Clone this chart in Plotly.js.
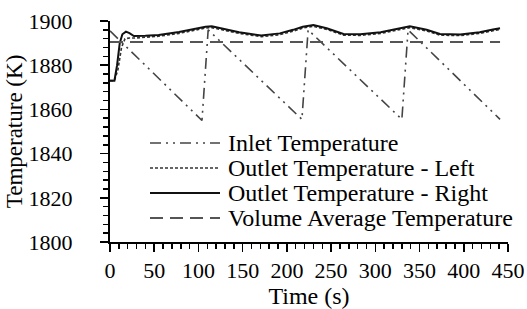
<!DOCTYPE html>
<html>
<head>
<meta charset="utf-8">
<script src="https://cdn.plot.ly/plotly-3.0.1.min.js"></script>
<style>
html,body{margin:0;padding:0;background:#fff;}
#chart{width:527px;height:309px;}
</style>
</head>
<body>
<div id="chart"></div>
<script>
// ---- data ----
const seriesNames = ["Inlet Temperature", "Outlet Temperature - Left", "Outlet Temperature - Right", "Volume Average Temperature"];

const inletTime = [0, 104, 111, 217, 224, 330, 337, 441];
const inletTemp = [1895.5, 1855, 1896, 1855.5, 1896, 1855.5, 1896, 1855.5];

const outletLeftTime = [0, 5, 9, 13, 17, 22, 28, 40, 55, 78, 93, 108, 115, 131, 146, 171, 192, 207, 218, 230, 245, 264, 283, 306, 328, 339, 358, 373, 396, 418, 433, 441];
const outletLeftTemp = [1873, 1873, 1878, 1888, 1892, 1892.3, 1892.3, 1892.6, 1893.1, 1894.4, 1895.6, 1896.8, 1897, 1895.7, 1894.4, 1892.9, 1893.8, 1895.4, 1896.8, 1897.6, 1896.2, 1893.6, 1893.5, 1894.4, 1896.3, 1897, 1895.5, 1893.6, 1893.4, 1894.4, 1895.6, 1896.2];

const outletRightTime = [0, 5, 8, 11, 14, 18, 22, 27, 40, 55, 78, 93, 108, 115, 131, 146, 171, 192, 207, 218, 230, 245, 264, 283, 306, 328, 339, 358, 373, 396, 418, 433, 441];
const outletRightTemp = [1873, 1873, 1880, 1890, 1894, 1895.2, 1894.5, 1893.2, 1893.3, 1893.7, 1895, 1896.2, 1897.4, 1897.6, 1896.2, 1894.9, 1893.4, 1894.4, 1896, 1897.4, 1898.2, 1896.7, 1894.1, 1894, 1894.9, 1896.9, 1897.6, 1896, 1894.1, 1893.9, 1894.9, 1896.2, 1896.7];

const volumeAvgTime = [0, 441];
const volumeAvgTemp = [1890.5, 1890.5];

const xTickVals = [0, 50, 100, 150, 200, 250, 300, 350, 400, 450];
const yTickVals = [1800, 1820, 1840, 1860, 1880, 1900];

// ---- styles ----
const FONT = "Liberation Serif, serif";
const styles = [
  {color: "#444", width: 1.6, dash: "11px,5px,2px,5px,2px,5px"},
  {color: "#333", width: 1.6, dash: "3px,2px"},
  {color: "#111", width: 2, dash: "solid"},
  {color: "#555", width: 2, dash: "13px,7px"}
];
const xs = [inletTime, outletLeftTime, outletRightTime, volumeAvgTime];
const ys = [inletTemp, outletLeftTemp, outletRightTemp, volumeAvgTemp];

const traces = seriesNames.map((n, i) => ({
  type: "scatter", mode: "lines", name: n,
  x: xs[i], y: ys[i], line: styles[i], showlegend: false
}));

const L = 110, R = 508, T = 21, B = 242;
const px = v => (v - L) / (R - L);
const py = v => (B - v) / (B - T);
const rows = [143, 168, 193, 218];
const shapes = [], annotations = [];
seriesNames.forEach((n, i) => {
  shapes.push({type: "line", xref: "paper", yref: "paper",
    x0: px(150), x1: px(220), y0: py(rows[i]), y1: py(rows[i]),
    line: {color: styles[i].color, width: styles[i].width, dash: styles[i].dash}});
  annotations.push({xref: "paper", yref: "paper", x: px(226), y: py(rows[i]),
    xanchor: "left", yanchor: "middle", showarrow: false, text: n,
    font: {family: FONT, size: 24, color: "#000"}});
});

const layout = {
  width: 527, height: 309,
  margin: {l: L, r: 527 - R, t: T, b: 309 - B},
  paper_bgcolor: "#fff", plot_bgcolor: "#fff",
  font: {family: FONT, size: 22, color: "#000"},
  showlegend: false,
  xaxis: {
    range: [0, 450], tickvals: xTickVals, ticks: "outside", ticklen: 8, tickwidth: 1.5, tickcolor: "#000",
    minor: {dtick: 10, ticks: "outside", ticklen: 5, tickwidth: 1.5, tickcolor: "#000"},
    showline: true, linewidth: 2, linecolor: "#000", showgrid: false, zeroline: false,
    tickfont: {family: FONT, size: 22, color: "#000"},
    title: {text: "Time (s)", font: {family: FONT, size: 24, color: "#000"}, standoff: 0}
  },
  yaxis: {
    range: [1800, 1900], tickvals: yTickVals, ticks: "outside", ticklen: 8, tickwidth: 1.5, tickcolor: "#000",
    minor: {dtick: 4, ticks: "outside", ticklen: 5, tickwidth: 1.5, tickcolor: "#000"},
    showline: true, linewidth: 2, linecolor: "#000", showgrid: false, zeroline: false,
    tickfont: {family: FONT, size: 22, color: "#000"}, ticklabelstandoff: 23,
    title: {text: "Temperature (K)", font: {family: FONT, size: 23, color: "#000"}, standoff: 0}
  },
  shapes: shapes,
  annotations: annotations
};

Plotly.newPlot("chart", traces, layout, {staticPlot: true, displayModeBar: false});
</script>
</body>
</html>
